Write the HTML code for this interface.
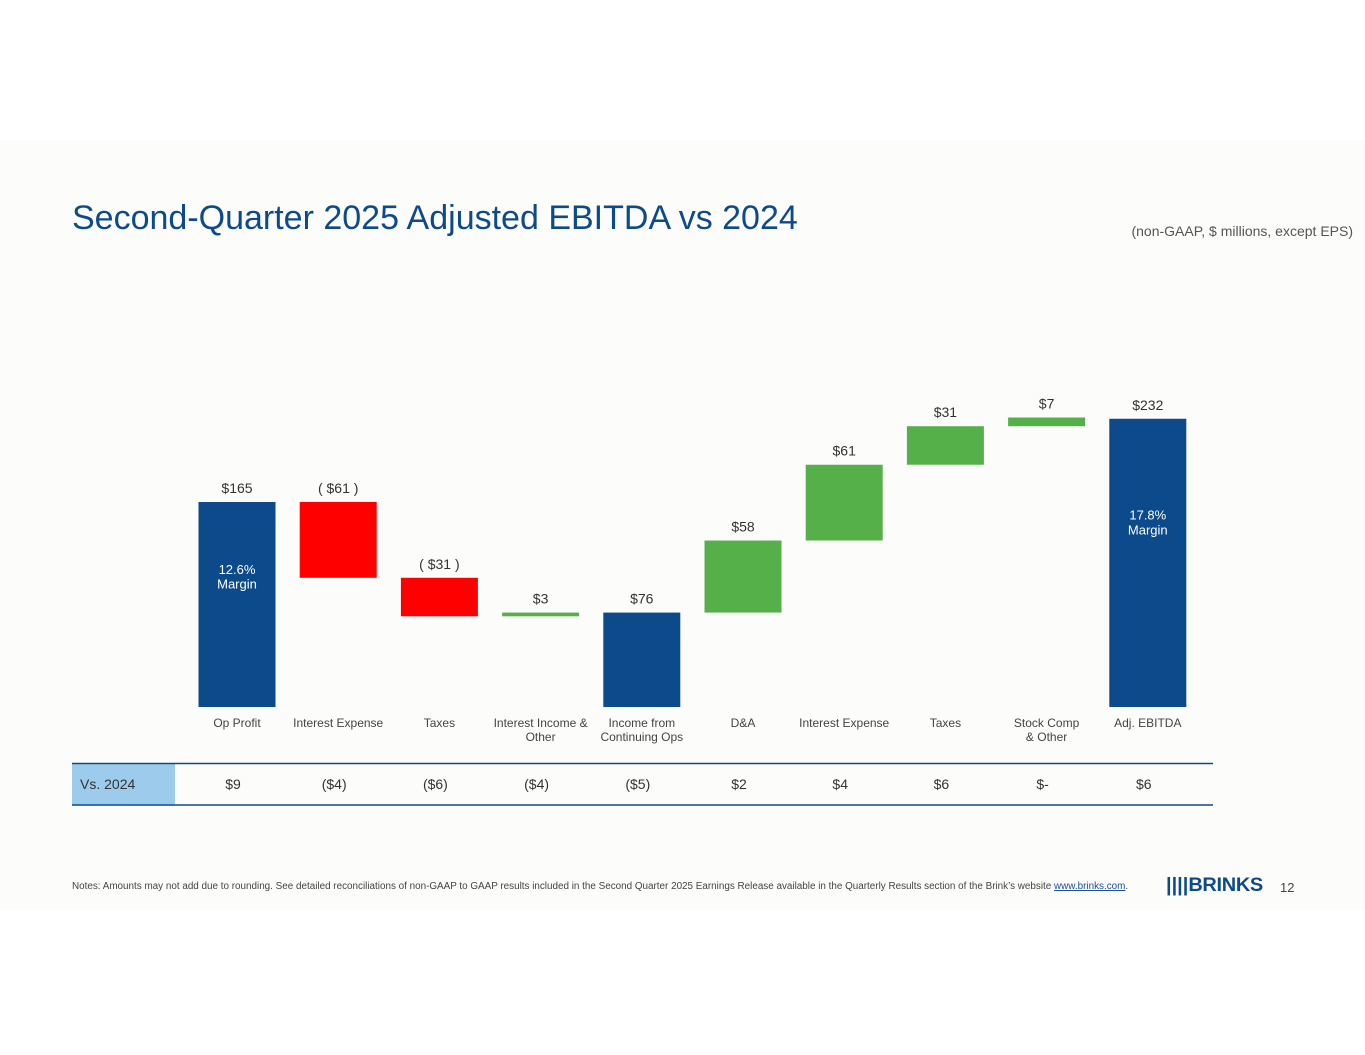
<!DOCTYPE html>
<html><head><meta charset="utf-8">
<style>
body{margin:0;width:1365px;height:1055px;background:#fff;font-family:"Liberation Sans",Arial,sans-serif;position:relative;overflow:hidden}
.slide{position:absolute;left:0;top:140px;width:1365px;height:770px;background:#fcfcfa}
.t{position:absolute;white-space:nowrap}
</style></head><body>
<div class="slide"></div>
<div class="t" style="left:72px;top:199px;font-size:34px;color:#0d4a8c">Second-Quarter 2025 Adjusted EBITDA vs 2024</div>
<div class="t" style="right:12px;top:223px;font-size:14px;color:#555">(non-GAAP, $ millions, except EPS)</div>
<svg id="chart" width="1365" height="1055" style="position:absolute;left:0;top:0" font-family="Liberation Sans, Arial, sans-serif"></svg>
<div class="t" style="left:72px;top:881px;font-size:9.9px;color:#444">Notes: Amounts may not add due to rounding. See detailed reconciliations of non-GAAP to GAAP results included in the Second Quarter 2025 Earnings Release available in the Quarterly Results section of the Brink’s website <span style="color:#1a4fa0;text-decoration:underline">www.brinks.com</span>.</div>
<div class="t" style="left:1166px;top:875px;font-size:19px;font-weight:bold;color:#0d4a8c;letter-spacing:-0.3px;transform:scaleX(1.05);transform-origin:left"><span style="letter-spacing:0px">||||</span>BRINKS</div>
<div class="t" style="left:1280px;top:880px;font-size:13px;color:#444">12</div>
<script>
const categories=["Op Profit","Interest Expense","Taxes","Interest Income &\nOther","Income from\nContinuing Ops","D&A","Interest Expense","Taxes","Stock Comp\n& Other","Adj. EBITDA"];
const values=[165,-61,-31,3,76,58,61,31,7,232];
const kinds=["total","delta","delta","delta","total","delta","delta","delta","delta","total"];
const valueLabels=["$165","( $61 )","( $31 )","$3","$76","$58","$61","$31","$7","$232"];
const marginLabels=["12.6%\nMargin","","","","","","","","","17.8%\nMargin"];
const vs2024=["$9","($4)","($6)","($4)","($5)","$2","$4","$6","$-","$6"];
const svg=document.getElementById('chart');const NS="http://www.w3.org/2000/svg";
const baseY=707,scale=205/165,x0=237,step=101.2,bw=77;
const xc=i=>x0+i*step;const yv=v=>baseY-v*scale;
function mk(tag,attrs){const e=document.createElementNS(NS,tag);for(const k in attrs)e.setAttribute(k,attrs[k]);svg.appendChild(e);return e;}
function txt(x,y,s,size,fill,name){const lines=s.split("\n");lines.forEach((l,j)=>{const t=mk('text',{x:x,y:y+j*size*1.15,'font-size':size,fill:fill,'text-anchor':'middle'});t.textContent=l;

});}
let run=0;
values.forEach((v,i)=>{let top,bot,col;
if(kinds[i]==="total"){run=v;top=yv(v);bot=baseY;col="#0d4a8c";}
else{const a=run,b=run+v;run=b;top=yv(Math.max(a,b));bot=yv(Math.min(a,b));col=v<0?"#ff0000":"#55b04a";}
const r=mk('rect',{x:xc(i)-bw/2,y:top,width:bw,height:Math.max(bot-top,1),fill:col});


txt(xc(i),top-9,valueLabels[i],14,"#333",'value-label-'+i);
if(marginLabels[i])txt(xc(i),top+(bot-top)*0.35,marginLabels[i],13,"#fff",'margin-label-'+i);
txt(xc(i),727,categories[i],12,"#444",'category-label-'+i);
txt(xc(i)-4,789,vs2024[i],14,"#333",'vs2024-value-'+i);
});
const c=mk('rect',{x:72,y:764,width:103,height:41,fill:"#9dcbeb"});


const l1=mk('line',{x1:72,x2:1213,y1:763.5,y2:763.5,stroke:"#0d4a8c",'stroke-width':1.5});


const l2=mk('line',{x1:72,x2:1213,y1:805,y2:805,stroke:"#0d4a8c",'stroke-width':1.5});


const h=mk('text',{x:80,y:789,'font-size':14,fill:"#333"});h.textContent="Vs. 2024";


</script>
</body></html>
